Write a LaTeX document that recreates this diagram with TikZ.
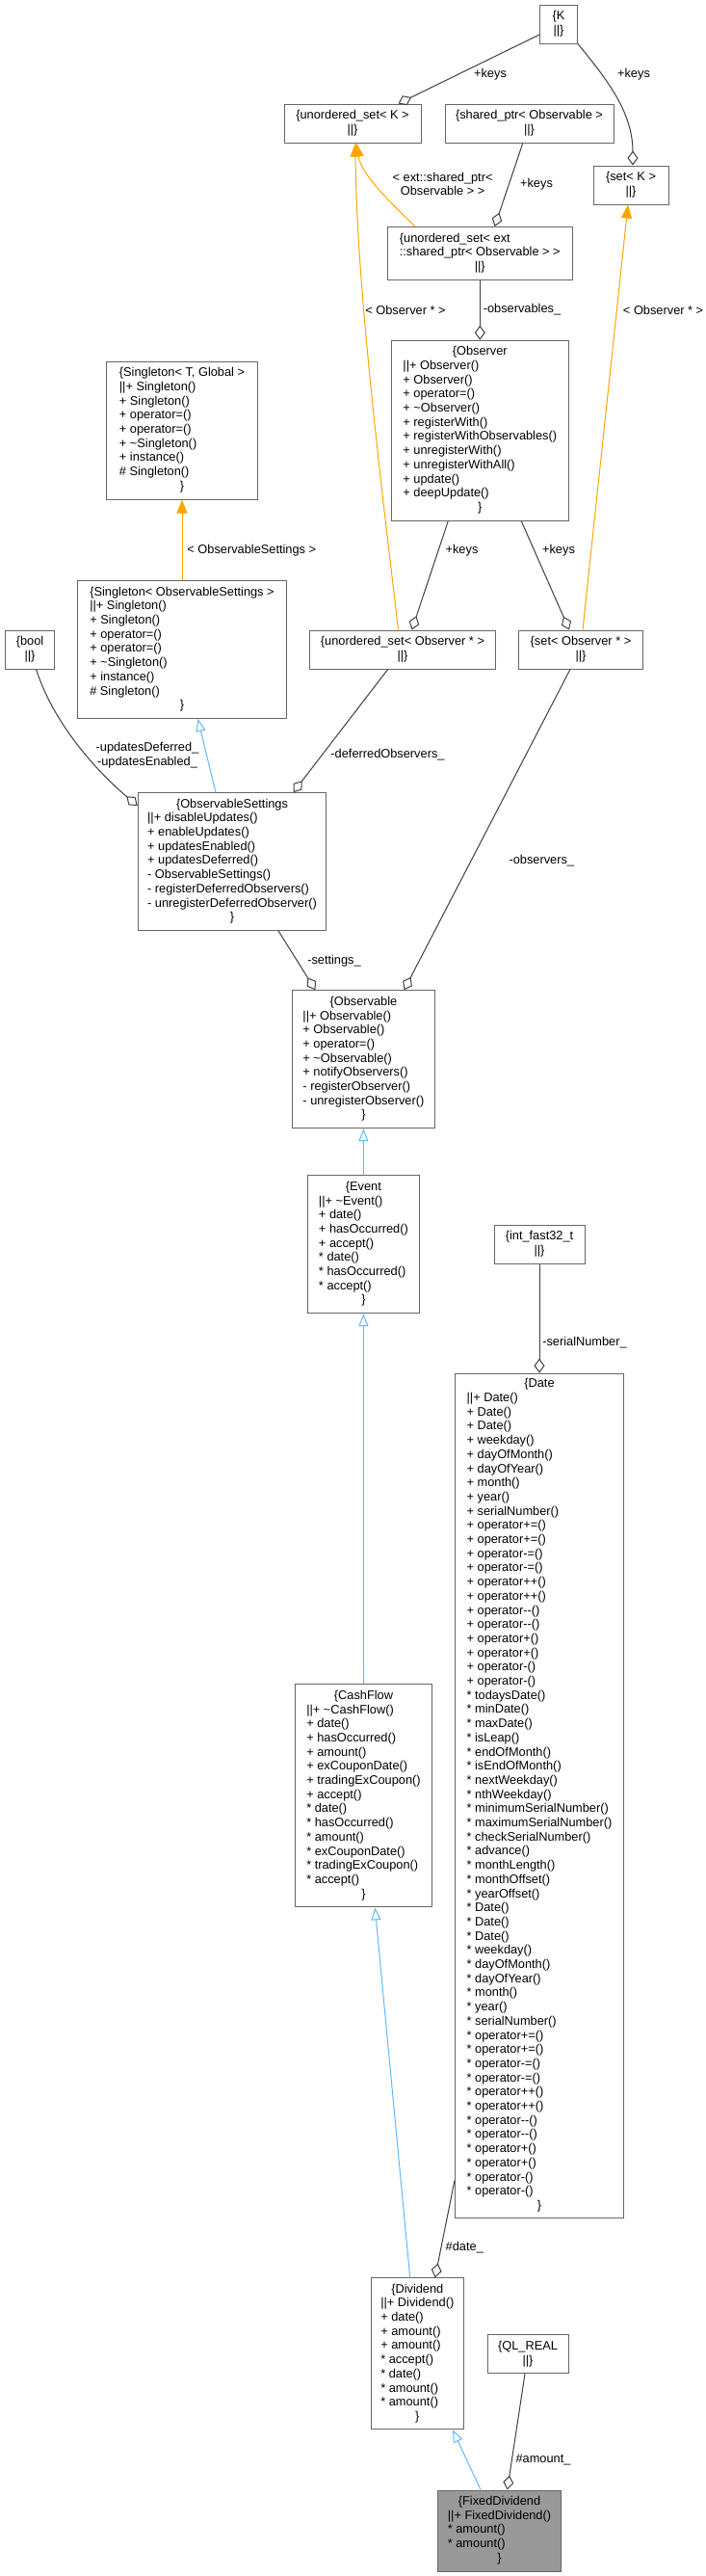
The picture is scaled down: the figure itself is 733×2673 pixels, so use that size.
\documentclass[tikz,border=0pt]{standalone}
\usepackage{fontspec}
\setmainfont{Liberation Sans}
\usetikzlibrary{arrows.meta}
\definecolor{boxgray}{HTML}{666666}
\definecolor{edgegray}{HTML}{404040}
\definecolor{inhblue}{HTML}{63B8FF}
\definecolor{tmplorange}{HTML}{FFA500}
\definecolor{hlgray}{HTML}{999999}
\newcommand\clh[1]{\multicolumn{1}{@{}c@{}}{#1}}
\newcommand\mmn{-\kern0pt-}
\newcommand\tld{\textasciitilde}
\newcommand\dfont{\fontsize{12.8bp}{14.7bp}\selectfont}
\newcommand\ctab[1]{\begin{tabular}{@{}l@{}}#1\end{tabular}}
\tikzset{
  cls/.style={draw=boxgray, line width=1bp, fill=white, inner sep=0pt, font=\dfont},
  lbl/.style={inner sep=0pt, font=\dfont, align=center},
  agg/.style={draw=edgegray, line width=1bp, -{Diamond[open, length=15bp, width=11bp]}},
  inh/.style={draw=inhblue, line width=1bp, -{Triangle[open, length=13bp, width=10bp]}},
  tmpl/.style={color=tmplorange, line width=1bp, -{Triangle[length=14bp, width=11bp]}},
}
\begin{document}
\begin{tikzpicture}[x=1bp,y=-1bp]
\useasboundingbox (0,0) rectangle (733,2673);
\fill[white] (0,0) rectangle (733,2673);

% ---------- class nodes ----------
\node[cls, minimum width=39bp, minimum height=40bp] (K) at (580,25)
  {\ctab{\clh{\{K}\\ \clh{||\}}}};
\node[cls, minimum width=142bp, minimum height=40bp] (usK) at (366,128)
  {\ctab{\clh{\{unordered\_set< K >}\\ \clh{||\}}}};
\node[cls, minimum width=175bp, minimum height=40bp] (sptr) at (549.5,128)
  {\ctab{\clh{\{shared\_ptr< Observable >}\\ \clh{||\}}}};
\node[cls, minimum width=78bp, minimum height=40bp] (setK) at (655,192)
  {\ctab{\clh{\{set< K >}\\ \clh{||\}}}};
\node[cls, minimum width=192bp, minimum height=55bp] (usext) at (498.3,263)
  {\ctab{\{unordered\_set< ext\\ ::shared\_ptr< Observable > >\\ \clh{||\}}}};
\node[cls, minimum width=184bp, minimum height=187bp] (Observer) at (498.3,446.7)
  {\ctab{\clh{\{Observer}\\
  ||+ Observer()\\
  + Observer()\\
  + operator=()\\
  + \tld Observer()\\
  + registerWith()\\
  + registerWithObservables()\\
  + unregisterWith()\\
  + unregisterWithAll()\\
  + update()\\
  + deepUpdate()\\
  \clh{\}}}};
\node[cls, minimum width=157bp, minimum height=143bp] (SingT) at (189,446.5)
  {\ctab{\clh{\{Singleton< T, Global >}\\
  ||+ Singleton()\\
  + Singleton()\\
  + operator=()\\
  + operator=()\\
  + \tld Singleton()\\
  + instance()\\
  \# Singleton()\\
  \clh{\}}}};
\node[cls, minimum width=217bp, minimum height=143bp] (SingOS) at (189,674)
  {\ctab{\clh{\{Singleton< ObservableSettings >}\\
  ||+ Singleton()\\
  + Singleton()\\
  + operator=()\\
  + operator=()\\
  + \tld Singleton()\\
  + instance()\\
  \# Singleton()\\
  \clh{\}}}};
\node[cls, minimum width=51bp, minimum height=40bp] (bool) at (31,674)
  {\ctab{\clh{\{bool}\\ \clh{||\}}}};
\node[cls, minimum width=193bp, minimum height=40bp] (usObs) at (418,674)
  {\ctab{\clh{\{unordered\_set< Observer * >}\\ \clh{||\}}}};
\node[cls, minimum width=129bp, minimum height=40bp] (setObs) at (603,674)
  {\ctab{\clh{\{set< Observer * >}\\ \clh{||\}}}};
\node[cls, minimum width=195.5bp, minimum height=142.6bp] (ObsSet) at (241,894)
  {\ctab{\clh{\{ObservableSettings}\\
  ||+ disableUpdates()\\
  + enableUpdates()\\
  + updatesEnabled()\\
  + updatesDeferred()\\
  - ObservableSettings()\\
  - registerDeferredObservers()\\
  - unregisterDeferredObserver()\\
  \clh{\}}}};
\node[cls, minimum width=148bp, minimum height=143bp] (Observable) at (377.4,1099.2)
  {\ctab{\clh{\{Observable}\\
  ||+ Observable()\\
  + Observable()\\
  + operator=()\\
  + \tld Observable()\\
  + notifyObservers()\\
  - registerObserver()\\
  - unregisterObserver()\\
  \clh{\}}}};
\node[cls, minimum width=116bp, minimum height=143bp] (Event) at (377.4,1291.2)
  {\ctab{\clh{\{Event}\\
  ||+ \tld Event()\\
  + date()\\
  + hasOccurred()\\
  + accept()\\
  {*} date()\\
  {*} hasOccurred()\\
  {*} accept()\\
  \clh{\}}}};
\node[cls, minimum width=94bp, minimum height=40bp] (intf) at (560,1291.3)
  {\ctab{\clh{\{int\_fast32\_t}\\ \clh{||\}}}};
\node[cls, minimum width=175bp, minimum height=876bp] (Date) at (560,1863.2)
  {\ctab{\clh{\{Date}\\
  ||+ Date()\\
  + Date()\\
  + Date()\\
  + weekday()\\
  + dayOfMonth()\\
  + dayOfYear()\\
  + month()\\
  + year()\\
  + serialNumber()\\
  + operator+=()\\
  + operator+=()\\
  + operator-=()\\
  + operator-=()\\
  + operator++()\\
  + operator++()\\
  + operator\mmn()\\
  + operator\mmn()\\
  + operator+()\\
  + operator+()\\
  + operator-()\\
  + operator-()\\
  {*} todaysDate()\\
  {*} minDate()\\
  {*} maxDate()\\
  {*} isLeap()\\
  {*} endOfMonth()\\
  {*} isEndOfMonth()\\
  {*} nextWeekday()\\
  {*} nthWeekday()\\
  {*} minimumSerialNumber()\\
  {*} maximumSerialNumber()\\
  {*} checkSerialNumber()\\
  {*} advance()\\
  {*} monthLength()\\
  {*} monthOffset()\\
  {*} yearOffset()\\
  {*} Date()\\
  {*} Date()\\
  {*} Date()\\
  {*} weekday()\\
  {*} dayOfMonth()\\
  {*} dayOfYear()\\
  {*} month()\\
  {*} year()\\
  {*} serialNumber()\\
  {*} operator+=()\\
  {*} operator+=()\\
  {*} operator-=()\\
  {*} operator-=()\\
  {*} operator++()\\
  {*} operator++()\\
  {*} operator\mmn()\\
  {*} operator\mmn()\\
  {*} operator+()\\
  {*} operator+()\\
  {*} operator-()\\
  {*} operator-()\\
  \clh{\}}}};
\node[cls, minimum width=141.6bp, minimum height=231bp] (CashFlow) at (377.5,1863.3)
  {\ctab{\clh{\{CashFlow}\\
  ||+ \tld CashFlow()\\
  + date()\\
  + hasOccurred()\\
  + amount()\\
  + exCouponDate()\\
  + tradingExCoupon()\\
  + accept()\\
  {*} date()\\
  {*} hasOccurred()\\
  {*} amount()\\
  {*} exCouponDate()\\
  {*} tradingExCoupon()\\
  {*} accept()\\
  \clh{\}}}};
\node[cls, minimum width=96bp, minimum height=157bp] (Dividend) at (433.3,2442.3)
  {\ctab{\clh{\{Dividend}\\
  ||+ Dividend()\\
  + date()\\
  + amount()\\
  + amount()\\
  {*} accept()\\
  {*} date()\\
  {*} amount()\\
  {*} amount()\\
  \clh{\}}}};
\node[cls, minimum width=84bp, minimum height=40bp] (QLREAL) at (548,2442.7)
  {\ctab{\clh{\{QL\_REAL}\\ \clh{||\}}}};
\node[cls, fill=hlgray, minimum width=128.4bp, minimum height=84bp] (FixedDiv) at (518.5,2626)
  {\ctab{\clh{\{FixedDividend}\\
  ||+ FixedDividend()\\
  {*} amount()\\
  {*} amount()\\
  \clh{\}}}};

% ---------- connectors ----------
\draw[agg] ([yshift=-11bp]K.west) -- ([xshift=47.5bp]usK.north);
\draw[agg] (K.south east) .. controls (628,80) and (657,115) .. ([xshift=2bp]setK.north);
\draw[agg] ([xshift=-6.7bp]sptr.south) -- ([xshift=15.3bp]usext.north);
\draw[tmpl] ([xshift=-67.3bp]usext.north) .. controls (400,205) and (375,180) .. ([xshift=4bp]usK.south);
\draw[tmpl] ([xshift=-4.5bp]usObs.north) .. controls (398,520) and (370,300) .. ([xshift=3bp]usK.south);
\draw[tmpl] ([xshift=2bp]setObs.north) -- ([xshift=-3bp]setK.south);
\draw[agg] (usext.south) -- (Observer.north);
\draw[tmpl] (SingOS.north) -- (SingT.south);
\draw[agg] ([xshift=-33bp]Observer.south) -- ([xshift=9.6bp]usObs.north);
\draw[agg] ([xshift=43bp]Observer.south) -- ([xshift=-12bp]setObs.north);
\draw[agg] ([xshift=6.6bp]bool.south) .. controls (55,750) and (100,800) .. ([yshift=58bp]ObsSet.west);
\draw[agg] ([xshift=-15.3bp]usObs.south) -- ([xshift=63.5bp]ObsSet.north);
\draw[inh] ([xshift=-17bp]ObsSet.north) -- ([xshift=16.4bp]SingOS.south);
\draw[agg] ([xshift=48bp]ObsSet.south) -- ([xshift=-50bp]Observable.north);
\draw[agg] ([xshift=-11bp]setObs.south) -- ([xshift=42.2bp]Observable.north);
\draw[inh] (Event.north) -- (Observable.south);
\draw[inh] (CashFlow.north) -- (Event.south);
\draw[agg] (intf.south) -- (Date.north);
\draw[inh] ([xshift=-7.6bp]Dividend.north) -- ([xshift=11.8bp]CashFlow.south);
\draw[agg] ([yshift=39.3bp]Date.south west) -- ([xshift=18.4bp]Dividend.north);
\draw[inh] ([xshift=-19.5bp]FixedDiv.north) -- ([xshift=36.7bp]Dividend.south);
\draw[agg] ([xshift=-3bp]QLREAL.south) -- ([xshift=8.2bp]FixedDiv.north);

% ---------- labels ----------
\node[lbl] (l1) at (509,77) {+keys};
\node[lbl] (l2) at (658,77) {+keys};
\node[lbl] (l3) at (459.6,191) {< ext::shared\_ptr<\\Observable > >};
\node[lbl] (l4) at (557,191.5) {+keys};
\node[lbl] (l5) at (421,321.5) {< Observer * >};
\node[lbl] (l6) at (542,321.5) {-observables\_};
\node[lbl] (l7) at (688.6,321.5) {< Observer * >};
\node[lbl] (l8) at (261.3,571.5) {< ObservableSettings >};
\node[lbl] (l9) at (479.5,571.5) {+keys};
\node[lbl] (l10) at (580,571.5) {+keys};
\node[lbl] (l11) at (153,784) {-updatesDeferred\_\\-updatesEnabled\_};
\node[lbl] (l12) at (402.5,783.5) {-deferredObservers\_};
\node[lbl] (l13) at (347,997) {-settings\_};
\node[lbl] (l14) at (562.3,893.5) {-observers\_};
\node[lbl] (l15) at (607,1393.5) {-serialNumber\_};
\node[lbl] (l16) at (482.3,2332.5) {\#date\_};
\node[lbl] (l17) at (564,2552.5) {\#amount\_};
\end{tikzpicture}
\end{document}
